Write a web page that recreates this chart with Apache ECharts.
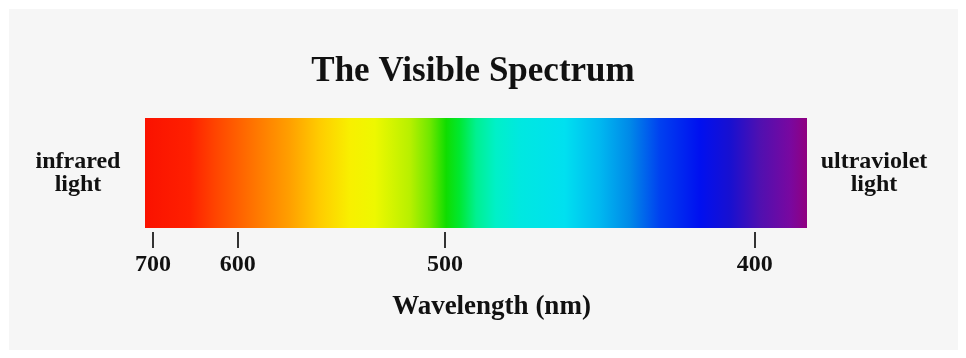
<!DOCTYPE html>
<html>
<head>
<meta charset="utf-8">
<script src="https://cdn.jsdelivr.net/npm/echarts@6/dist/echarts.min.js"></script>
<style>
  html, body { margin: 0; padding: 0; background: #fff; }
  #chart { width: 966px; height: 358px; }
</style>
</head>
<body>
<div id="chart"></div>
<script>
// wavelength tick labels (nm)
const wavelengths = [700, 600, 500, 400];
// where each tick sits along the spectrum bar, in % of its length (scale is not linear)
const tickPositions = [1.2, 14.0, 45.3, 92.1];
// the spectrum bar covers the whole axis
const spectrumLength = [100];
const leftLabel = ["infrared\nlight"];
const rightLabel = ["ultraviolet\nlight"];

// colour stops of the spectrum, left (red) to right (violet)
const spectrumStops = [
  [0.0, "#fa1200"], [0.068, "#ff2000"], [0.106, "#ff4400"], [0.159, "#ff7000"],
  [0.219, "#ffa000"], [0.264, "#ffcc00"], [0.31, "#f8f000"], [0.347, "#eef800"],
  [0.40, "#b8f000"], [0.43, "#70e800"], [0.455, "#10dd00"], [0.475, "#00e830"],
  [0.50, "#00f090"], [0.53, "#00f0c8"], [0.566, "#00e8e0"], [0.634, "#00e0f0"],
  [0.687, "#00b8f0"], [0.733, "#0088e8"], [0.778, "#0040f0"], [0.838, "#0010f0"],
  [0.884, "#1810d0"], [0.929, "#5010b0"], [0.974, "#7808a0"], [1.0, "#900080"]
];

const serif = "Liberation Serif";
const chart = echarts.init(document.getElementById("chart"));

chart.setOption({
  backgroundColor: "#ffffff",
  animation: false,
  graphic: [{
    type: "rect",
    z: -10,
    shape: { x: 9, y: 9, width: 949, height: 341 },
    style: { fill: "#f6f6f6" }
  }],
  title: {
    text: "The Visible Spectrum",
    left: 468,
    top: 49,
    textAlign: "center",
    textStyle: { fontFamily: serif, fontWeight: "bold", fontSize: 35, color: "#111" }
  },
  grid: { left: 145, right: 159, top: 114, height: 118 },
  xAxis: {
    type: "value",
    min: 0,
    max: 100,
    name: "Wavelength (nm)",
    nameLocation: "middle",
    nameGap: 62,
    nameTextStyle: {
      fontFamily: serif, fontWeight: "bold", fontSize: 27, color: "#111",
      padding: [0, 0, 0, 31]
    },
    axisLine: { show: false },
    splitLine: { show: false },
    axisTick: {
      show: true,
      length: 16,
      customValues: tickPositions,
      lineStyle: { color: "#333", width: 2 }
    },
    axisLabel: {
      customValues: tickPositions,
      margin: 21,
      fontFamily: serif, fontWeight: "bold", fontSize: 24, color: "#111",
      formatter: function (v) {
        const i = tickPositions.indexOf(v);
        return i >= 0 ? String(wavelengths[i]) : "";
      }
    }
  },
  yAxis: [
    {
      type: "category",
      data: leftLabel,
      position: "left",
      axisLine: { show: false },
      axisTick: { show: false },
      axisLabel: {
        align: "center", margin: 67, lineHeight: 23, padding: [8, 0, 0, 0],
        fontFamily: serif, fontWeight: "bold", fontSize: 24, color: "#111"
      }
    },
    {
      type: "category",
      data: rightLabel,
      position: "right",
      axisLine: { show: false },
      axisTick: { show: false },
      axisLabel: {
        align: "center", margin: 67, lineHeight: 23, padding: [8, 0, 0, 0],
        fontFamily: serif, fontWeight: "bold", fontSize: 24, color: "#111"
      }
    }
  ],
  series: [{
    type: "bar",
    yAxisIndex: 0,
    data: spectrumLength,
    barWidth: 110,
    itemStyle: {
      color: new echarts.graphic.LinearGradient(0, 0, 1, 0,
        spectrumStops.map(s => ({ offset: s[0], color: s[1] })))
    }
  }]
});
</script>
</body>
</html>
